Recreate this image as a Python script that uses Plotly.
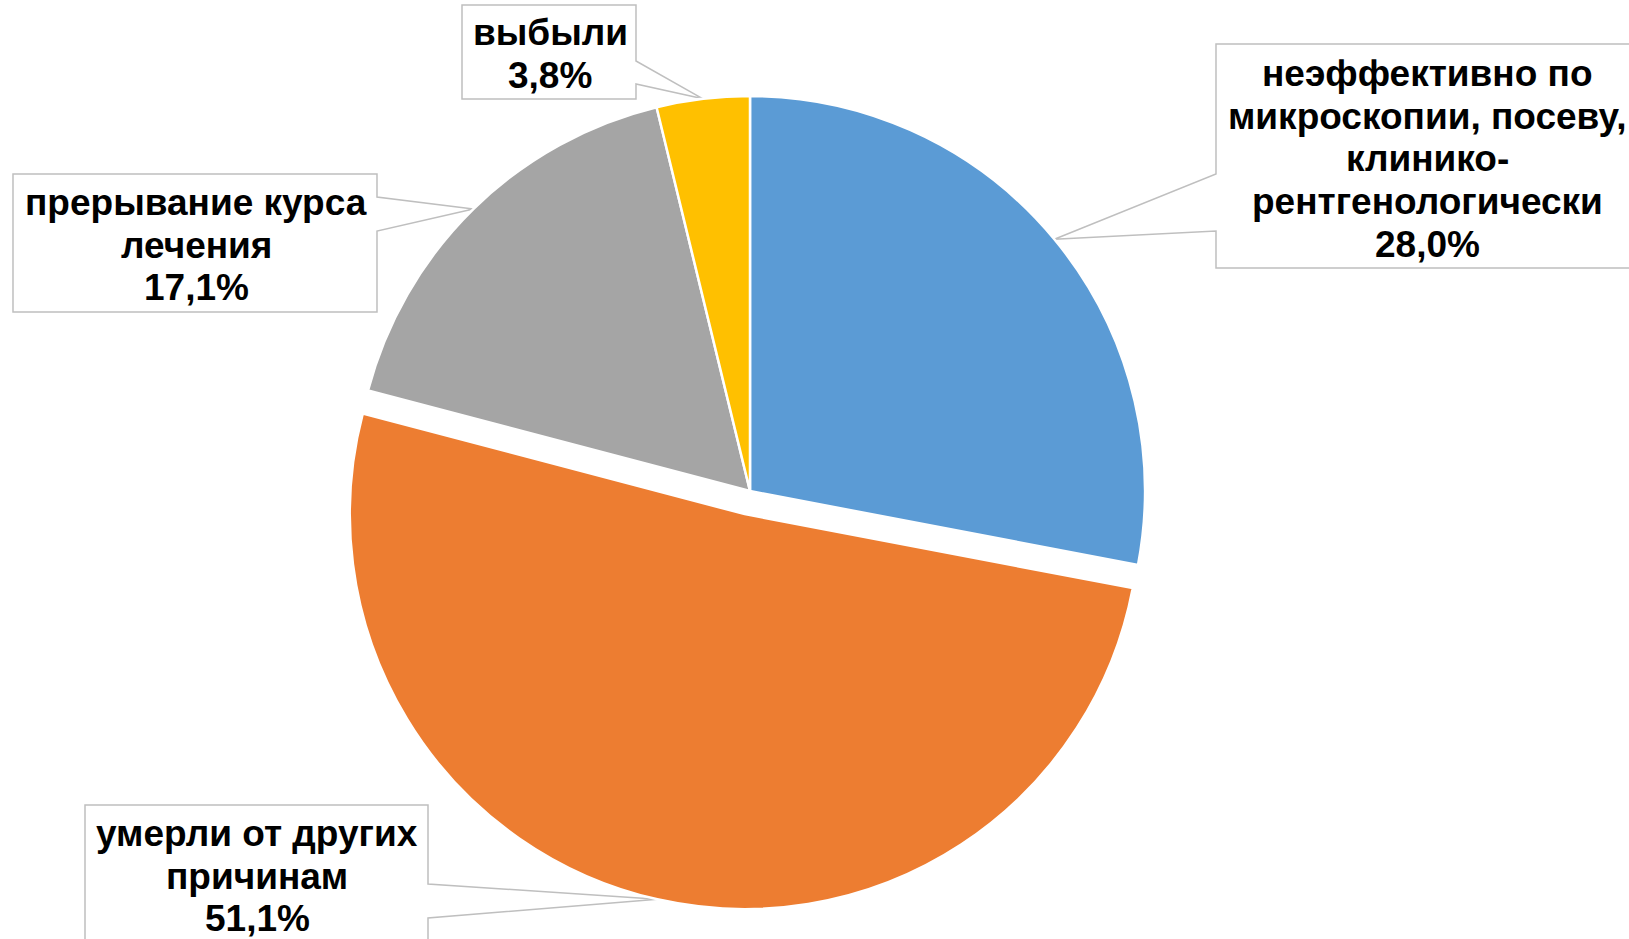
import math
import plotly.graph_objects as go

# ---- data ----
categories = [
    "неэффективно по<br>микроскопии, посеву,<br>клинико-<br>рентгенологически",
    "умерли от других<br>причинам",
    "прерывание курса<br>лечения",
    "выбыли",
]
values = [28.0, 51.1, 17.1, 3.8]
pulls = [0.0, 0.06, 0.0, 0.0]
colors = ["#5B9BD5", "#ED7D31", "#A5A5A5", "#FFC000"]

# ---- layout constants (pixels) ----
W, H = 1629, 939
CX, CY, R = 750, 491, 395
maxpull = max(pulls)
half = R * (1 + maxpull)
LINE = 42.8
FONT_SIZE = 37

# callout boxes: x0, y0, x1, y1, wedge side, wedge base a, wedge base b, text cx, text cy
boxes = [
    (1216, 44, 1645, 268, "left", 174, 231, 1427, 159),
    (85, 805, 428, 960, "right", 884, 918, 257, 876),
    (13, 174, 377, 312, "right", 197, 231, 196, 245),
    (462, 5, 636, 99, "right", 61, 84, 550, 54),
]


def px(x):
    return x / W


def py(y):
    return 1 - y / H


fig = go.Figure()
fig.add_trace(go.Pie(
    labels=[c.replace("<br>", " ") for c in categories],
    values=values,
    pull=pulls,
    sort=False,
    direction="clockwise",
    rotation=0,
    marker=dict(colors=colors, line=dict(color="white", width=2.5)),
    textinfo="none",
    hoverinfo="label+percent",
    showlegend=False,
    domain=dict(x=[px(CX - half), px(CX + half)], y=[py(CY + half), py(CY - half)]),
))

total = sum(values)
cum = 0.0
shapes = []
annotations = []
for i, v in enumerate(values):
    mid = (cum + v / 2) / total
    cum += v
    th = 2 * math.pi * mid
    dist = R * (1 + pulls[i])
    tx = CX + dist * math.sin(th)
    ty = CY - dist * math.cos(th)
    x0, y0, x1, y1, side, ba, bb, tcx, tcy = boxes[i]
    if side == "right":
        pts = [(x0, y0), (x1, y0), (x1, ba), (tx, ty), (x1, bb), (x1, y1), (x0, y1)]
    else:
        pts = [(x0, y0), (x1, y0), (x1, y1), (x0, y1), (x0, bb), (tx, ty), (x0, ba)]
    path = "M " + " L ".join(f"{px(a):.5f},{py(b):.5f}" for a, b in pts) + " Z"
    shapes.append(dict(type="path", xref="paper", yref="paper", path=path,
                       line=dict(color="#BFBFBF", width=1.5), fillcolor="white",
                       layer="below"))
    pct = f"{v:.1f}".replace(".", ",") + "%"
    lines = categories[i].split("<br>") + [pct]
    n = len(lines)
    for k, ln in enumerate(lines):
        yy = tcy + (k - (n - 1) / 2) * LINE
        annotations.append(dict(
            x=px(tcx), y=py(yy), xref="paper", yref="paper",
            text=f"<b>{ln}</b>",
            showarrow=False, xanchor="center", yanchor="middle", align="center",
            font=dict(family="Arial, Liberation Sans, sans-serif", size=FONT_SIZE, color="black"),
        ))

fig.update_layout(
    width=W, height=H,
    margin=dict(l=0, r=0, t=0, b=0),
    paper_bgcolor="white", plot_bgcolor="white",
    shapes=shapes, annotations=annotations,
)

fig.write_html("out.html")
